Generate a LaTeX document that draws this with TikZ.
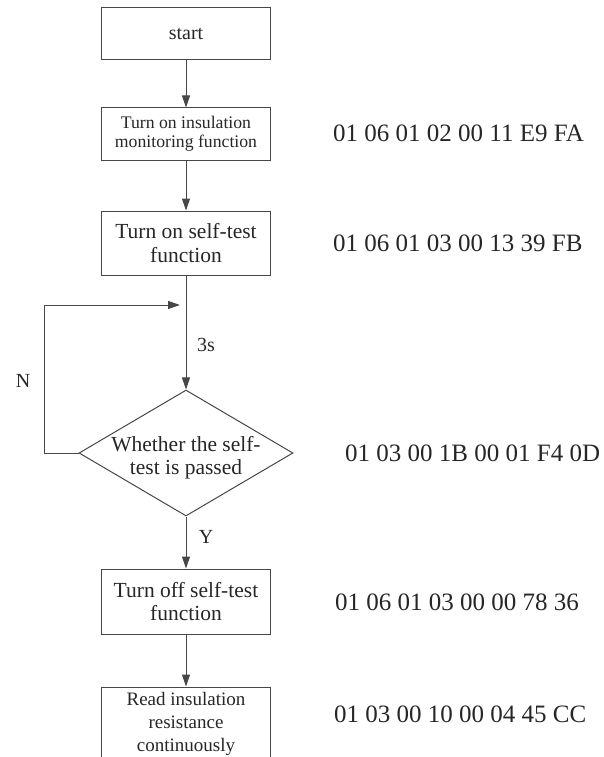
\documentclass[tikz,border=0pt]{standalone}
\usepackage{fontspec}
\setmainfont{Liberation Serif}
\usetikzlibrary{shapes.geometric,arrows.meta}

\begin{document}
\begin{tikzpicture}[x=1pt,y=-1pt,
        box/.style={draw=black!72, line width=1pt, minimum width=169pt, inner sep=0pt, align=center, text=black!85},
        arr/.style={draw=black!72, line width=1pt, -{Triangle[length=12pt,width=8pt]}},
        code/.style={font=\rmfamily\fontsize{25}{30}\selectfont, text=black!85, anchor=west, inner sep=0pt},
        lbl/.style={font=\rmfamily\fontsize{20}{24}\selectfont, text=black!85, inner sep=0pt}]
        \def\cx{186}   % Άξονας του διαγράμματος
        \def\tx{333}   % Αρχή των κωδικών

        % Περιθώρια της εικόνας
        \useasboundingbox (0,0) rectangle (603,757);

        % Κουτιά της ροής
        \node[box, minimum height=52pt, font=\rmfamily\fontsize{20}{23}\selectfont] (start) at (\cx,34) {start};
        \node[box, minimum height=52pt, font=\rmfamily\fontsize{17.7}{19.5}\selectfont] (insOn) at (\cx,134) {Turn on insulation\\monitoring function};
        \node[box, minimum height=64pt, font=\rmfamily\fontsize{21.5}{24}\selectfont] (testOn) at (\cx,243) {Turn on self-test\\function};

        % Έλεγχος (ρόμβος)
        \node[draw=black!72, line width=1pt, shape=diamond, minimum width=214pt, minimum height=126pt, inner sep=0pt] (check) at (\cx,453) {};
        \node[align=center, text=black!85, inner sep=0pt, font=\rmfamily\fontsize{21.5}{23}\selectfont] (checkText) at (\cx,458) {Whether the self-\\test is passed};

        \node[box, minimum height=65pt, font=\rmfamily\fontsize{21.5}{23}\selectfont] (testOff) at (\cx,601.5) {Turn off self-test\\function};
        \node[box, minimum height=74pt, font=\rmfamily\fontsize{19}{23}\selectfont] (readR) at (\cx,724) {Read insulation\\resistance\\continuously};

        % Βέλη
        \draw[arr] (start) -- (insOn);
        \draw[arr] (insOn) -- (testOn);
        \draw[arr] (testOn) -- (check);
        \draw[arr] (check) -- (testOff);
        \draw[arr] (testOff) -- (readR);

        % Επιστροφή (N)
        \coordinate (back) at (44,305);
        \coordinate (join) at (180,305);
        \draw[arr] (check.west) -| (back) -- (join);

        % Ετικέτες
        \node[lbl] (wait) at (206,345) {3s};
        \node[lbl] (no) at (23,381) {N};
        \node[lbl] (yes) at (206,537) {Y};

        % Κωδικοί εντολών
        \node[code] (c1) at (\tx,133) {01 06 01 02 00 11 E9 FA};
        \node[code] (c2) at (\tx,243) {01 06 01 03 00 13 39 FB};
        \node[code] (c3) at (\tx+12,453) {01 03 00 1B 00 01 F4 0D};
        \node[code] (c4) at (\tx+2,602) {01 06 01 03 00 00 78 36};
        \node[code] (c5) at (\tx+1,714) {01 03 00 10 00 04 45 CC};
\end{tikzpicture}
\end{document}
